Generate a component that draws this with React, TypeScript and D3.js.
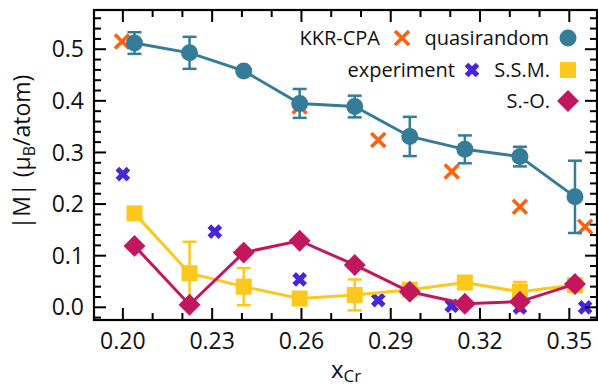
import { useEffect, useRef } from "react";
import * as d3 from "d3";

// x positions of the calculated compositions
const xCalc = [0.2039, 0.2224, 0.2406, 0.2594, 0.2779, 0.2964, 0.3149, 0.3334, 0.3519];

// quasirandom (circles, with error bars)
const quasiY = [0.512, 0.493, 0.458, 0.395, 0.389, 0.331, 0.306, 0.292, 0.214];
const quasiErr = [0.021, 0.031, 0.005, 0.028, 0.021, 0.038, 0.027, 0.019, 0.07];

// S.S.M. (squares)
const ssmY = [0.182, 0.066, 0.04, 0.017, 0.024, 0.034, 0.048, 0.03, 0.043];
const ssmErr = [0, 0.061, 0.036, 0, 0.03, 0, 0, 0.019, 0];

// S.-O. (diamonds)
const soY = [0.119, 0.005, 0.106, 0.129, 0.082, 0.03, 0.007, 0.011, 0.045];

// KKR-CPA (orange crosses)
const kkrX = [0.1997, 0.2594, 0.2858, 0.3105, 0.3334, 0.3553];
const kkrY = [0.515, 0.389, 0.324, 0.263, 0.195, 0.156];

// experiment (blue X)
const expX = [0.2, 0.2309, 0.2594, 0.2858, 0.3105, 0.3334, 0.3553];
const expY = [0.258, 0.1465, 0.054, 0.014, 0.003, 0.0, 0.0];

const xTicks = [0.2, 0.23, 0.26, 0.29, 0.32, 0.35];
const yTicks = [0.0, 0.1, 0.2, 0.3, 0.4, 0.5];

const TEAL = "#347c98";
const ORANGE = "#fd6210";
const BLUE = "#4726da";
const YELLOW = "#fbc81b";
const MAGENTA = "#c2175f";

const W = 598;
const H = 387;
const FONT = "'Open Sans', 'Noto Sans', sans-serif";

const App: React.FC = () => {
    const svgRef = useRef<SVGSVGElement | null>(null);

    useEffect(() => {
        if (!svgRef.current) return;
        const svg = d3.select(svgRef.current);
        svg.selectAll("*").remove();

        const left = 94, right = 597, top = 10, bottom = 320;
        const x = d3.scaleLinear().domain([0.1903, 0.3593]).range([left, right]);
        const y = d3.scaleLinear().domain([-0.0246, 0.576]).range([bottom, top]);

        const plot = svg.append("g");

        // crosses / X markers (drawn below)
        const cross = (g: d3.Selection<SVGGElement, unknown, null, undefined>, cx: number, cy: number) => {
            const s = 7;
            g.append("path")
                .attr("d", `M${cx - s},${cy - s}L${cx + s},${cy + s}M${cx - s},${cy + s}L${cx + s},${cy - s}`)
                .attr("stroke", ORANGE).attr("stroke-width", 3.6).attr("fill", "none");
        };
        const xSym = d3.symbol().type(d3.symbolCross).size(135);
        const bigX = (g: d3.Selection<SVGGElement, unknown, null, undefined>, cx: number, cy: number) => {
            g.append("path").attr("d", xSym()!).attr("fill", BLUE)
                .attr("transform", `translate(${cx},${cy}) rotate(45)`);
        };
        const sq = d3.symbol().type(d3.symbolSquare);
        const square = (g: d3.Selection<SVGGElement, unknown, null, undefined>, cx: number, cy: number) => {
            g.append("path").attr("d", sq.size(256)()!).attr("fill", YELLOW)
                .attr("transform", `translate(${cx},${cy})`);
        };
        const diamond = (g: d3.Selection<SVGGElement, unknown, null, undefined>, cx: number, cy: number) => {
            g.append("path").attr("d", sq.size(240)()!).attr("fill", MAGENTA)
                .attr("transform", `translate(${cx},${cy}) rotate(45)`);
        };
        const circle = (g: d3.Selection<SVGGElement, unknown, null, undefined>, cx: number, cy: number) => {
            g.append("circle").attr("cx", cx).attr("cy", cy).attr("r", 8.5).attr("fill", TEAL);
        };

        const errBars = (vals: number[], errs: number[], color: string) => {
            vals.forEach((v, i) => {
                if (!errs[i]) return;
                const cx = x(xCalc[i]);
                const y0 = y(v - errs[i]), y1 = y(v + errs[i]);
                const g = plot.append("g").attr("stroke", color).attr("stroke-width", 2.5);
                g.append("line").attr("x1", cx).attr("x2", cx).attr("y1", y0).attr("y2", y1);
                g.append("line").attr("x1", cx - 7).attr("x2", cx + 7).attr("y1", y0).attr("y2", y0);
                g.append("line").attr("x1", cx - 7).attr("x2", cx + 7).attr("y1", y1).attr("y2", y1);
            });
        };

        const line = d3.line<number>().x((_, i) => x(xCalc[i])).y(d => y(d));

        const kkrG = plot.append("g");
        kkrX.forEach((v, i) => cross(kkrG, x(v), y(kkrY[i])));
        const expG = plot.append("g");
        expX.forEach((v, i) => bigX(expG, x(v), y(expY[i])));

        // S.S.M.
        plot.append("path").attr("d", line(ssmY)).attr("stroke", YELLOW).attr("stroke-width", 3).attr("fill", "none");
        errBars(ssmY, ssmErr, YELLOW);
        const ssmG = plot.append("g");
        ssmY.forEach((v, i) => square(ssmG, x(xCalc[i]), y(v)));

        // S.-O.
        plot.append("path").attr("d", line(soY)).attr("stroke", MAGENTA).attr("stroke-width", 3).attr("fill", "none");
        const soG = plot.append("g");
        soY.forEach((v, i) => diamond(soG, x(xCalc[i]), y(v)));

        // quasirandom
        plot.append("path").attr("d", line(quasiY)).attr("stroke", TEAL).attr("stroke-width", 3).attr("fill", "none");
        errBars(quasiY, quasiErr, TEAL);
        const qG = plot.append("g");
        quasiY.forEach((v, i) => circle(qG, x(xCalc[i]), y(v)));

        // frame and ticks (inward, all four sides)
        const axes = svg.append("g").attr("stroke", "#000");
        axes.append("rect").attr("x", left).attr("y", top).attr("width", right - left).attr("height", bottom - top)
            .attr("fill", "none").attr("stroke-width", 2.2);

        const xMinor = d3.range(0.2, 0.3595, 0.01);
        const yMinor = d3.range(-0.02, 0.58, 0.02);
        const isMajor = (v: number, list: number[]) => list.some(t => Math.abs(t - v) < 1e-6);
        xMinor.forEach(v => {
            const len = isMajor(v, xTicks) ? 12 : 7;
            const px = x(v);
            axes.append("line").attr("x1", px).attr("x2", px).attr("y1", bottom).attr("y2", bottom - len).attr("stroke-width", 2);
            axes.append("line").attr("x1", px).attr("x2", px).attr("y1", top).attr("y2", top + len).attr("stroke-width", 2);
        });
        yMinor.forEach(v => {
            const len = isMajor(v, yTicks) ? 12 : 7;
            const py = y(v);
            axes.append("line").attr("x1", left).attr("x2", left + len).attr("y1", py).attr("y2", py).attr("stroke-width", 2);
            axes.append("line").attr("x1", right).attr("x2", right - len).attr("y1", py).attr("y2", py).attr("stroke-width", 2);
        });

        const labels = svg.append("g").attr("font-family", FONT).attr("fill", "#111");
        xTicks.forEach(v => {
            labels.append("text").attr("x", x(v)).attr("y", 349).attr("text-anchor", "middle")
                .attr("font-size", 23).text(d3.format(".2f")(v));
        });
        yTicks.forEach(v => {
            labels.append("text").attr("x", 84).attr("y", y(v)).attr("dy", "0.35em").attr("text-anchor", "end")
                .attr("font-size", 23).text(d3.format(".1f")(v));
        });

        // axis titles
        const xl = labels.append("text").attr("x", 346).attr("y", 378).attr("text-anchor", "middle").attr("font-size", 24);
        xl.append("tspan").text("x");
        xl.append("tspan").attr("font-size", 17).attr("dy", 4).text("Cr");

        const yl = labels.append("text").attr("transform", "translate(30,152) rotate(-90)")
            .attr("text-anchor", "middle").attr("font-size", 23);
        yl.append("tspan").text("|M| (μ");
        yl.append("tspan").attr("font-size", 16).attr("dy", 5).text("B");
        yl.append("tspan").attr("dy", -5).text("/atom)");

        // legend
        const leg = svg.append("g").attr("font-family", FONT).attr("font-size", 20).attr("fill", "#111");
        const rows = [
            { label: "KKR-CPA", tx: 380, mx: 402, y: 38, draw: cross },
            { label: "quasirandom", tx: 549, mx: 568, y: 38, draw: circle },
            { label: "experiment", tx: 455, mx: 472, y: 70, draw: bigX },
            { label: "S.S.M.", tx: 550, mx: 568, y: 70, draw: square },
            { label: "S.-O.", tx: 550, mx: 568, y: 101, draw: diamond },
        ];
        rows.forEach(r => {
            leg.append("text").attr("x", r.tx).attr("y", r.y).attr("dy", "0.35em").attr("text-anchor", "end").text(r.label);
            r.draw(leg, r.mx, r.y);
        });
    }, []);

    return (
        <svg ref={svgRef} width={W} height={H}
            style={{ position: "absolute", left: 0, top: 0, background: "#fff" }} />
    );
};

export default App;
